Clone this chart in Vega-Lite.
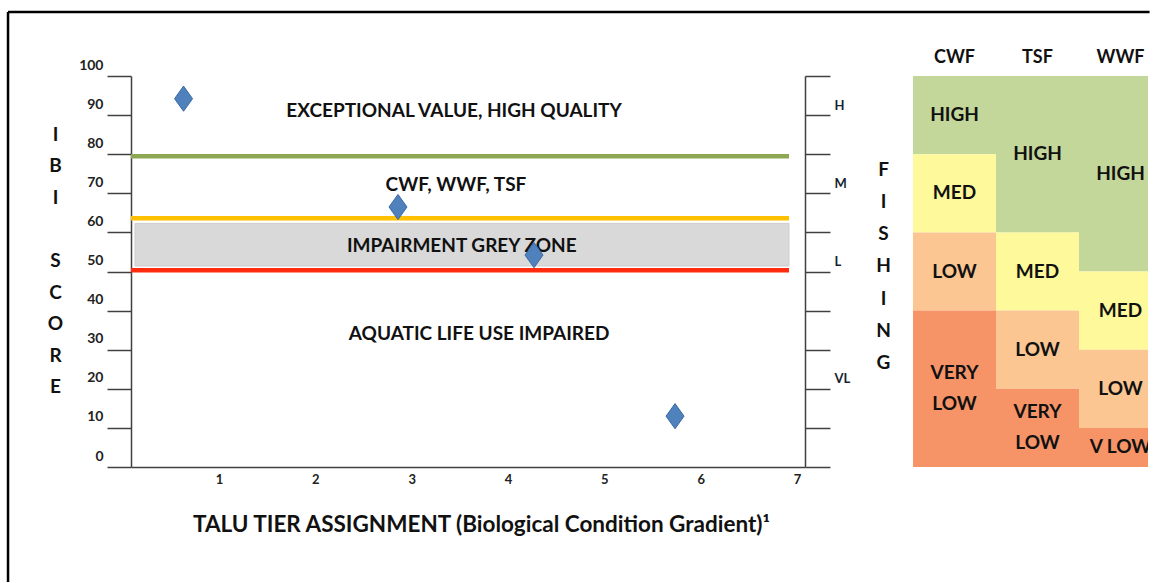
{
  "$schema": "https://vega.github.io/schema/vega-lite/v6.json",
  "padding": {"left": 6, "top": 10, "right": 0, "bottom": 0},
  "background": "white",
  "bounds": "flush",
  "spacing": 108,
  "resolve": {"scale": {"color": "independent"}},
  "config": {
    "font": "Lato",
    "view": {"stroke": null},
    "axis": {
      "grid": false,
      "domainColor": "#404040",
      "domainWidth": 1.5,
      "tickColor": "#404040",
      "tickWidth": 1.5,
      "labelFont": "Lato",
      "labelFontWeight": "bold",
      "labelColor": "#222222",
      "labelOverlap": false,
      "labelFlush": false,
      "titleFont": "Lato",
      "titleFontWeight": "bold",
      "titleColor": "#111111"
    }
  },
  "datasets": {
    "sites": [
      {"tier": 0.632, "ibi": 94.2},
      {"tier": 2.858, "ibi": 66.5},
      {"tier": 4.27, "ibi": 54.2},
      {"tier": 5.734, "ibi": 13.0}
    ],
    "thresholds": [
      {"threshold": "EV/HQ", "ibi": 79.5},
      {"threshold": "Attainment", "ibi": 63.6},
      {"threshold": "Impairment", "ibi": 50.3}
    ],
    "greyzone": [{"ibi_low": 51.4, "ibi_high": 62.3}],
    "zones": [
      {"zone": "EXCEPTIONAL VALUE, HIGH QUALITY", "tier": 3.44, "ibi": 91.0},
      {"zone": "CWF, WWF, TSF", "tier": 3.46, "ibi": 72.1},
      {"zone": "IMPAIRMENT GREY ZONE", "tier": 3.52, "ibi": 56.5},
      {"zone": "AQUATIC LIFE USE IMPAIRED", "tier": 3.7, "ibi": 34.0}
    ],
    "fishing": [
      {"use": "CWF", "level": "HIGH", "label": "HIGH", "low": 80, "high": 100},
      {"use": "CWF", "level": "MED", "label": "MED", "low": 60, "high": 80},
      {"use": "CWF", "level": "LOW", "label": "LOW", "low": 40, "high": 60},
      {"use": "CWF", "level": "VERY LOW", "label": "VERY\nLOW", "low": 0, "high": 40},
      {"use": "TSF", "level": "HIGH", "label": "HIGH", "low": 60, "high": 100},
      {"use": "TSF", "level": "MED", "label": "MED", "low": 40, "high": 60},
      {"use": "TSF", "level": "LOW", "label": "LOW", "low": 20, "high": 40},
      {"use": "TSF", "level": "VERY LOW", "label": "VERY\nLOW", "low": 0, "high": 20},
      {"use": "WWF", "level": "HIGH", "label": "HIGH", "low": 50, "high": 100},
      {"use": "WWF", "level": "MED", "label": "MED", "low": 30, "high": 50},
      {"use": "WWF", "level": "LOW", "label": "LOW", "low": 10, "high": 30},
      {"use": "WWF", "level": "VERY LOW", "label": "V LOW", "low": 0, "high": 10}
    ]
  },
  "hconcat": [
    {
      "width": 674,
      "height": 391,
      "layer": [
        {
          "data": {"values": [{}]},
          "mark": {"type": "rule", "color": "#000000", "strokeWidth": 2.5},
          "encoding": {
            "x": {"datum": -1.19, "type": "quantitative", "scale": {"domain": [0.0865, 7.083], "nice": false, "zero": false}},
            "x2": {"datum": 10.66},
            "y": {"datum": 116.37, "type": "quantitative", "scale": {"domain": [0, 100], "nice": false, "zero": false}, "axis": null}
          }
        },
        {
          "data": {"values": [{}]},
          "mark": {"type": "rule", "color": "#000000", "strokeWidth": 2.5},
          "encoding": {
            "x": {"datum": -1.19, "type": "quantitative", "scale": {"domain": [0.0865, 7.083], "nice": false, "zero": false}},
            "y": {"datum": 116.37, "type": "quantitative", "scale": {"domain": [0, 100], "nice": false, "zero": false}, "axis": null},
            "y2": {"datum": -29.4}
          }
        },
        {
          "data": {"name": "greyzone"},
          "mark": {"type": "rect", "fill": "#d9d9d9", "stroke": "#cdcdcd", "strokeWidth": 1},
          "encoding": {
            "x": {"datum": 0.128, "type": "quantitative", "scale": {"domain": [0.0865, 7.083], "nice": false, "zero": false}},
            "x2": {"datum": 6.917},
            "y": {"field": "ibi_low", "type": "quantitative", "scale": {"domain": [0, 100], "nice": false, "zero": false}, "axis": null},
            "y2": {"field": "ibi_high"}
          }
        },
        {
          "data": {"name": "thresholds"},
          "mark": {"type": "rule", "strokeWidth": 4.5},
          "encoding": {
            "x": {"datum": 0.0865, "type": "quantitative", "scale": {"domain": [0.0865, 7.083], "nice": false, "zero": false}},
            "x2": {"datum": 6.917},
            "y": {
              "field": "ibi", "type": "quantitative",
              "scale": {"domain": [0, 100], "nice": false, "zero": false},
              "axis": {
                "orient": "right",
                "values": [0, 10, 20, 30, 40, 50, 60, 70, 80, 90, 100],
                "tickSize": 25,
                "labelPadding": 4,
                "labelOffset": -10,
                "labelFontSize": 13,
                "labelColor": "#1a1f2e",
                "labelExpr": "datum.value == 90 ? 'H' : datum.value == 70 ? 'M' : datum.value == 50 ? 'L' : datum.value == 20 ? 'VL' : ''",
                "title": ["F", "I", "S", "H", "I", "N", "G"],
                "titleAngle": 0,
                "titleAlign": "center",
                "titleBaseline": "middle",
                "titleX": 78,
                "titleY": 93,
                "titleLineHeight": 32.3,
                "titleFontSize": 19
              }
            },
            "color": {
              "field": "threshold", "type": "nominal",
              "scale": {"domain": ["EV/HQ", "Attainment", "Impairment"], "range": ["#8da752", "#ffc000", "#fe2b0e"]},
              "legend": null
            }
          }
        },
        {
          "data": {"name": "zones"},
          "mark": {"type": "text", "fontSize": 19, "fontWeight": "bold", "color": "#111111"},
          "encoding": {
            "x": {"field": "tier", "type": "quantitative", "scale": {"domain": [0.0865, 7.083], "nice": false, "zero": false}},
            "y": {"field": "ibi", "type": "quantitative", "scale": {"domain": [0, 100], "nice": false, "zero": false}, "axis": null},
            "text": {"field": "zone"}
          }
        },
        {
          "data": {"name": "sites"},
          "mark": {"type": "point", "shape": "M0,-1.4L1,0L0,1.4L-1,0Z", "filled": true, "size": 324, "fill": "#4f81bd", "stroke": "#3b69a3", "strokeWidth": 1, "opacity": 1},
          "encoding": {
            "x": {
              "field": "tier", "type": "quantitative",
              "scale": {"domain": [0.0865, 7.083], "nice": false, "zero": false},
              "axis": {
                "orient": "bottom",
                "values": [1, 2, 3, 4, 5, 6, 7],
                "format": "d",
                "ticks": false,
                "labelPadding": 6,
                "labelFontSize": 13,
                "title": "TALU TIER ASSIGNMENT (Biological Condition Gradient)¹",
                "titleFontSize": 22.5,
                "titleAlign": "center",
                "titleBaseline": "middle",
                "titleX": 350,
                "titleY": 57
              }
            },
            "y": {
              "field": "ibi", "type": "quantitative",
              "scale": {"domain": [0, 100], "nice": false, "zero": false},
              "axis": {
                "orient": "left",
                "values": [0, 10, 20, 30, 40, 50, 60, 70, 80, 90, 100],
                "tickSize": 24,
                "labelPadding": 4,
                "labelOffset": -11,
                "labelFontSize": 14,
                "title": ["I", "B", "I", "\u200b", "S", "C", "O", "R", "E"],
                "titleAngle": 0,
                "titleAlign": "center",
                "titleBaseline": "middle",
                "titleX": -76,
                "titleY": 58,
                "titleLineHeight": 31.6,
                "titleFontSize": 19
              }
            }
          }
        }
      ]
    },
    {
      "width": 235,
      "height": 391,
      "data": {"name": "fishing"},
      "layer": [
        {
          "mark": {"type": "rect", "clip": true},
          "encoding": {
            "x": {
              "field": "use", "type": "nominal",
              "scale": {"domain": ["CWF", "TSF", "WWF"], "range": [0, 249], "paddingInner": 0, "paddingOuter": 0},
              "axis": {"orient": "top", "ticks": false, "domain": false, "labelAngle": 0, "labelPadding": 10, "labelFontSize": 18, "labelColor": "#111111", "title": null}
            },
            "y": {"field": "low", "type": "quantitative", "scale": {"domain": [0, 100], "nice": false, "zero": false}, "axis": null},
            "y2": {"field": "high"},
            "color": {
              "field": "level", "type": "nominal",
              "scale": {"domain": ["HIGH", "MED", "LOW", "VERY LOW"], "range": ["#c4d79b", "#fef99a", "#fbc692", "#f79467"]},
              "legend": null
            }
          }
        },
        {
          "transform": [
            {"filter": {"not": {"field": "label", "equal": "VERY\nLOW"}}},
            {"fold": ["low", "high"], "as": ["bound", "ibi"]},
            {"aggregate": [{"op": "mean", "field": "ibi", "as": "mid"}], "groupby": ["use", "label"]}
          ],
          "mark": {"type": "text", "clip": true, "fontSize": 19, "fontWeight": "bold", "color": "#111111"},
          "encoding": {
            "x": {"field": "use", "type": "nominal", "scale": {"domain": ["CWF", "TSF", "WWF"], "range": [0, 249], "paddingInner": 0, "paddingOuter": 0}},
            "y": {"field": "mid", "type": "quantitative", "scale": {"domain": [0, 100], "nice": false, "zero": false}, "axis": null},
            "text": {"field": "label"}
          }
        },
        {
          "transform": [
            {"filter": {"field": "label", "equal": "VERY\nLOW"}},
            {"fold": ["low", "high"], "as": ["bound", "ibi"]},
            {"aggregate": [{"op": "mean", "field": "ibi", "as": "mid"}], "groupby": ["use", "label"]}
          ],
          "mark": {"type": "text", "clip": true, "lineBreak": "\n", "lineHeight": 31, "dy": -15.5, "fontSize": 19, "fontWeight": "bold", "color": "#111111"},
          "encoding": {
            "x": {"field": "use", "type": "nominal", "scale": {"domain": ["CWF", "TSF", "WWF"], "range": [0, 249], "paddingInner": 0, "paddingOuter": 0}},
            "y": {"field": "mid", "type": "quantitative", "scale": {"domain": [0, 100], "nice": false, "zero": false}, "axis": null},
            "text": {"field": "label"}
          }
        }
      ]
    }
  ]
}
